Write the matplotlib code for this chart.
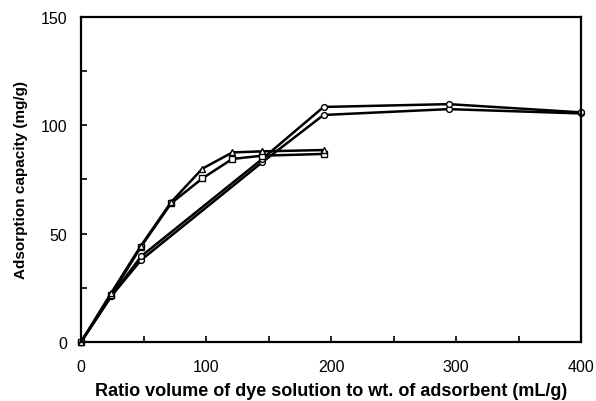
import matplotlib
matplotlib.use("Agg")
import matplotlib.pyplot as plt
from matplotlib.ticker import MultipleLocator

plt.rcParams['font.family'] = ['Liberation Sans', 'DejaVu Sans']

# short runs (ratio up to ~200 mL/g)
x_short = [0, 24, 48, 72, 97, 121, 145, 194]
y_tri = [0, 22.5, 44.5, 64.5, 80, 87.5, 88, 88.6]
y_sq = [0, 21.5, 44, 64, 75.5, 84.5, 86, 86.8]

# long runs (ratio up to 400 mL/g)
x_long = [0, 24, 48, 145, 194, 294, 400]
y_circ_hi = [0, 21, 39.5, 84.5, 108.5, 109.8, 106]
y_circ_lo = [0, 21, 37.8, 83, 104.8, 107.5, 105.5]

fig = plt.figure(figsize=(5.96, 4.02), dpi=100)
ax = fig.add_axes([0.136, 0.147, 0.839, 0.808])

style = dict(color='black', lw=1.8, markerfacecolor='white',
             markeredgecolor='black', markeredgewidth=1.0, clip_on=False)
ax.plot(x_long, y_circ_lo, marker='o', ms=4.2, **style)
ax.plot(x_long, y_circ_hi, marker='o', ms=4.2, **style)
ax.plot(x_short, y_sq, marker='s', ms=4.2, **style)
ax.plot(x_short, y_tri, marker='^', ms=4.2, **style)

ax.set_xlim(0, 400)
ax.set_ylim(0, 150)
ax.xaxis.set_major_locator(MultipleLocator(100))
ax.xaxis.set_minor_locator(MultipleLocator(50))
ax.yaxis.set_major_locator(MultipleLocator(50))
ax.yaxis.set_minor_locator(MultipleLocator(25))
ax.tick_params(which='both', direction='in', width=1.2, labelsize=11.5)
ax.tick_params(which='major', length=4)
ax.tick_params(which='minor', length=4)
ax.tick_params(axis='x', which='major', pad=12)
ax.tick_params(axis='y', which='major', pad=10)
for s in ax.spines.values():
    s.set_linewidth(1.6)

ax.set_xlabel('Ratio volume of dye solution to wt. of adsorbent (mL/g)',
              fontsize=13, fontweight='bold', labelpad=6)
ax.set_ylabel('Adsorption capacity (mg/g)', fontsize=11, fontweight='bold',
              labelpad=9)

fig.savefig('out.png', dpi=100)
